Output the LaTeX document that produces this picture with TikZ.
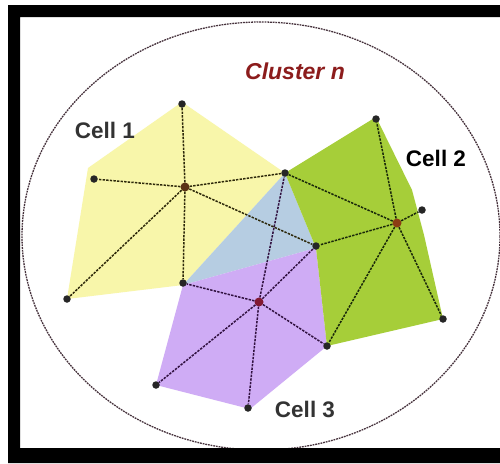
\documentclass[tikz,border=0pt]{standalone}
\usepackage{fontspec}
\setmainfont{Liberation Sans}
\definecolor{cyellow}{RGB}{248,246,170}
\definecolor{cgreen}{RGB}{166,206,57}
\definecolor{cblue}{RGB}{182,205,226}
\definecolor{cpurple}{RGB}{207,172,245}
\definecolor{credtxt}{RGB}{140,28,28}
\definecolor{ringc}{RGB}{70,50,60}
\definecolor{eone}{RGB}{45,40,10}
\definecolor{etwo}{RGB}{25,40,10}
\definecolor{ethree}{RGB}{50,18,65}
\begin{document}
\begin{tikzpicture}[x=1pt,y=-1pt,
  vtx/.style={circle,fill=black!85,inner sep=0pt,minimum size=7.5pt},
  ctr/.style={circle,inner sep=0pt,minimum size=9pt},
  edgeone/.style={draw=eone,line width=1.5pt,dash pattern=on 2.4pt off 1.2pt},
  edgetwo/.style={draw=etwo,line width=1.5pt,dash pattern=on 2.4pt off 1.2pt},
  edgethree/.style={draw=ethree,line width=1.5pt,dash pattern=on 2.4pt off 1.2pt},
  celllabel/.style={font=\bfseries\fontsize{22.5}{22.5}\selectfont,text=black!80}]
\useasboundingbox (0,0) rectangle (500,463);
\fill[white] (0,0) rectangle (500,463);
% regions
\fill[cyellow] (182,102) -- (285,173) -- (183,285) -- (67,299) -- (88,168) -- cycle;
\fill[cblue] (285,173) -- (316,248) -- (183,285) -- cycle;
\fill[cpurple] (183,285) -- (316,248) -- (327,346) -- (250,409) -- (156,385) -- cycle;
\fill[cgreen] (285,173) -- (376,117) -- (412,190) -- (424,235) -- (443,319) -- (327,346) -- (316,248) -- cycle;
% cluster ring
\draw[ringc,line width=1.3pt,dash pattern=on 1.8pt off 0.9pt] (261,236) ellipse [x radius=239,y radius=214];
% nodes
\node[ctr,fill={rgb,255:red,90;green,50;blue,20}] (c1) at (185,187) {};
\node[ctr,fill={rgb,255:red,140;green,60;blue,20}] (c2) at (397,223) {};
\node[ctr,fill={rgb,255:red,130;green,25;blue,50}] (c3) at (259,302) {};
\node[vtx] (n1) at (182,104) {};
\node[vtx] (n2) at (94,179) {};
\node[vtx] (n3) at (67,299) {};
\node[vtx] (n4) at (183,283) {};
\node[vtx] (s1) at (285,173) {};
\node[vtx] (s2) at (316,246) {};
\node[vtx] (m1) at (376,119) {};
\node[vtx] (m2) at (422,210) {};
\node[vtx] (m3) at (443,319) {};
\node[vtx] (m4) at (327,346) {};
\node[vtx] (p1) at (156,385) {};
\node[vtx] (p2) at (248,408) {};
% edges
\foreach \t in {n1,n2,n3,n4,s1,s2} \draw[edgeone] (c1) -- (\t);
\foreach \t in {m1,m2,m3,m4,s1,s2} \draw[edgetwo] (c2) -- (\t);
\foreach \t in {n4,s1,s2,m4,p1,p2} \draw[edgethree] (c3) -- (\t);
% labels
\node[font=\bfseries\itshape\fontsize{23}{23}\selectfont,text=credtxt] (cl) at (295,71) {Cluster n};
\node[celllabel] (l1) at (105,130) {Cell 1};
\node[celllabel,text=black] (l2) at (436,158) {Cell 2};
\node[celllabel] (l3) at (305,409) {Cell 3};
% frame
\fill[black,even odd rule] (8,5) rectangle (500,463) (20,17) rectangle (500,448);
\end{tikzpicture}
\end{document}
